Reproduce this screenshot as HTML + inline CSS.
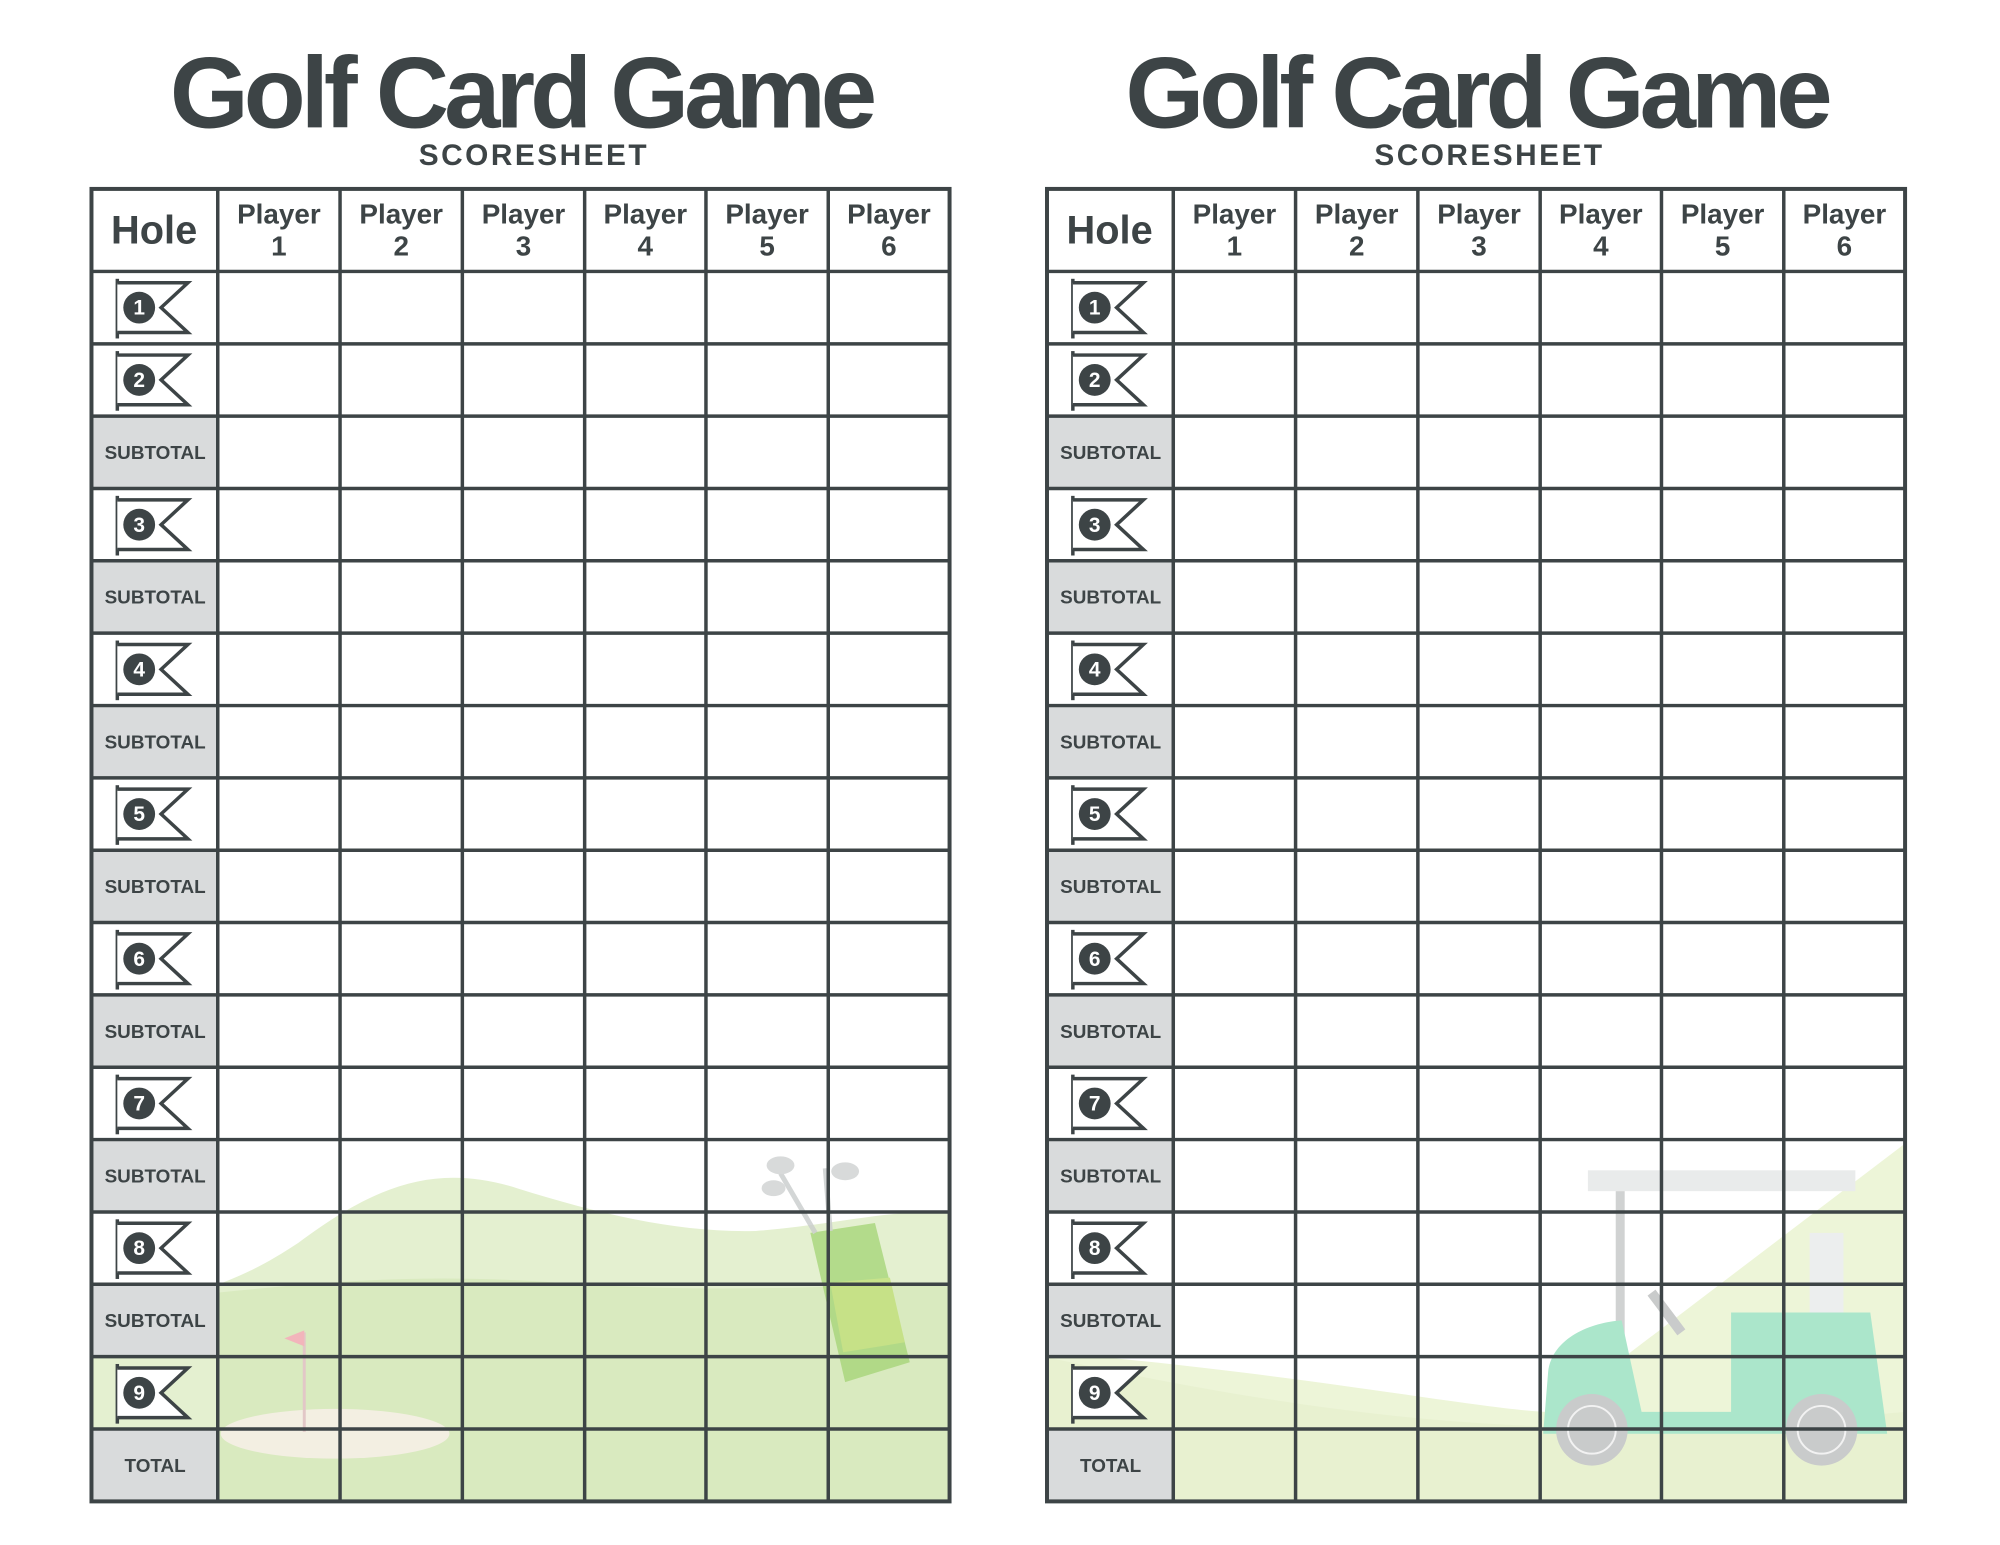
<!DOCTYPE html>
<html><head><meta charset="utf-8"><style>
html,body{margin:0;padding:0;background:#fff}
svg{display:block}
text{font-family:"Liberation Sans",sans-serif;font-weight:bold;fill:#3d4446}
</style></head><body>
<svg width="2000" height="1545" viewBox="0 0 2000 1545" xmlns="http://www.w3.org/2000/svg">
<defs>
<g id="flag">
<line x1="-22" y1="-29" x2="-22" y2="31" stroke="#3d4446" stroke-width="3.5"/>
<path d="M-22,-25 H49 L22,0 L49,25 H-22" fill="#fff" stroke="#3d4446" stroke-width="3.5" stroke-linejoin="miter"/>
<circle cx="0" cy="0" r="16" fill="#3d4446"/>
</g>
<g id="card">
<text x="524" y="128" font-size="102" text-anchor="middle" letter-spacing="-5">Golf Card Game</text>
<text x="537" y="166" font-size="30" text-anchor="middle" letter-spacing="2.5">SCORESHEET</text>
<g fill="#d9dbdc">
<rect x="92" y="418.5" width="127" height="72.8"/>
<rect x="92" y="564" width="127" height="72.8"/>
<rect x="92" y="709.6" width="127" height="72.8"/>
<rect x="92" y="855.1" width="127" height="72.8"/>
<rect x="92" y="1000.6" width="127" height="72.8"/>
<rect x="92" y="1146.1" width="127" height="72.8"/>
<rect x="92" y="1291.6" width="127" height="72.8"/>
<rect x="92" y="1437.2" width="127" height="72.8"/>
</g>
<text x="155" y="245" font-size="40" text-anchor="middle">Hole</text>
<g font-size="28" text-anchor="middle">
<text x="280.5" y="225">Player</text><text x="280.5" y="257">1</text>
<text x="403.5" y="225">Player</text><text x="403.5" y="257">2</text>
<text x="526.5" y="225">Player</text><text x="526.5" y="257">3</text>
<text x="649" y="225">Player</text><text x="649" y="257">4</text>
<text x="771.5" y="225">Player</text><text x="771.5" y="257">5</text>
<text x="894" y="225">Player</text><text x="894" y="257">6</text>
</g>
<use href="#flag" x="140" y="309.4"/>
<use href="#flag" x="140" y="382.1"/>
<use href="#flag" x="140" y="527.7"/>
<use href="#flag" x="140" y="673.2"/>
<use href="#flag" x="140" y="818.7"/>
<use href="#flag" x="140" y="964.2"/>
<use href="#flag" x="140" y="1109.8"/>
<use href="#flag" x="140" y="1255.3"/>
<use href="#flag" x="140" y="1400.8"/>
<g font-size="21" text-anchor="middle">
<text x="140" y="316.5" style="fill:#fff">1</text>
<text x="140" y="389.2" style="fill:#fff">2</text>
<text x="140" y="534.8" style="fill:#fff">3</text>
<text x="140" y="680.3" style="fill:#fff">4</text>
<text x="140" y="825.8" style="fill:#fff">5</text>
<text x="140" y="971.3" style="fill:#fff">6</text>
<text x="140" y="1116.9" style="fill:#fff">7</text>
<text x="140" y="1262.4" style="fill:#fff">8</text>
<text x="140" y="1407.9" style="fill:#fff">9</text>
</g>
<g font-size="19" text-anchor="middle">
<text x="156" y="461.7">SUBTOTAL</text>
<text x="156" y="607.2">SUBTOTAL</text>
<text x="156" y="752.7">SUBTOTAL</text>
<text x="156" y="898.2">SUBTOTAL</text>
<text x="156" y="1043.7">SUBTOTAL</text>
<text x="156" y="1189.2">SUBTOTAL</text>
<text x="156" y="1334.7">SUBTOTAL</text>
<text x="156" y="1480.3">TOTAL</text>
</g>
<g stroke="#3d4446" stroke-width="3.5">
<line x1="92" y1="273" x2="955" y2="273"/>
<line x1="92" y1="345.8" x2="955" y2="345.8"/>
<line x1="92" y1="418.5" x2="955" y2="418.5"/>
<line x1="92" y1="491.3" x2="955" y2="491.3"/>
<line x1="92" y1="564" x2="955" y2="564"/>
<line x1="92" y1="636.8" x2="955" y2="636.8"/>
<line x1="92" y1="709.6" x2="955" y2="709.6"/>
<line x1="92" y1="782.3" x2="955" y2="782.3"/>
<line x1="92" y1="855.1" x2="955" y2="855.1"/>
<line x1="92" y1="927.8" x2="955" y2="927.8"/>
<line x1="92" y1="1000.6" x2="955" y2="1000.6"/>
<line x1="92" y1="1073.4" x2="955" y2="1073.4"/>
<line x1="92" y1="1146.1" x2="955" y2="1146.1"/>
<line x1="92" y1="1218.9" x2="955" y2="1218.9"/>
<line x1="92" y1="1291.6" x2="955" y2="1291.6"/>
<line x1="92" y1="1364.4" x2="955" y2="1364.4"/>
<line x1="92" y1="1437.2" x2="955" y2="1437.2"/>
<line x1="219" y1="190" x2="219" y2="1510"/>
<line x1="342" y1="190" x2="342" y2="1510"/>
<line x1="465" y1="190" x2="465" y2="1510"/>
<line x1="588" y1="190" x2="588" y2="1510"/>
<line x1="710" y1="190" x2="710" y2="1510"/>
<line x1="833" y1="190" x2="833" y2="1510"/>
</g>
<rect x="92" y="190" width="863" height="1320" fill="none" stroke="#3d4446" stroke-width="4"/>
</g>
</defs>

<g transform="scale(0.9943)">
<!-- left background illustration -->
<path d="M92,1364 L92,1330 C200,1300 240,1290 300,1250 C380,1190 440,1170 520,1195 C600,1220 680,1240 760,1238 C840,1232 900,1215 955,1220 L955,1510 L92,1510 Z" fill="#e4f0d0"/>
<path d="M219,1300 C320,1290 420,1280 560,1290 C700,1300 820,1295 955,1290 L955,1510 L219,1510 Z" fill="#d9eabf"/>
<ellipse cx="337" cy="1442" rx="115" ry="25" fill="#f3efe2"/>
<line x1="306" y1="1340" x2="306" y2="1440" stroke="#e2c7c7" stroke-width="3"/>
<path d="M306,1338 L286,1346 L306,1354 Z" fill="#f2b5bb"/>
<g opacity="0.8">
<path d="M815,1240 L880,1230 L915,1370 L850,1390 Z" fill="#a8d67a"/>
<path d="M835,1290 L895,1285 L910,1350 L848,1360 Z" fill="#c2e07a"/>
<line x1="820" y1="1240" x2="785" y2="1180" stroke="#c9cccc" stroke-width="5"/>
<line x1="835" y1="1238" x2="830" y2="1175" stroke="#c9cccc" stroke-width="5"/>
<ellipse cx="785" cy="1172" rx="14" ry="9" fill="#cfd2d2"/>
<ellipse cx="850" cy="1178" rx="14" ry="9" fill="#cfd2d2"/>
<ellipse cx="778" cy="1195" rx="12" ry="8" fill="#cfd2d2"/>
</g>

<!-- right background illustration -->
<g transform="translate(1,0)">
<path d="M1915,1150 L1915,1510 L1052,1510 L1052,1360 C1300,1380 1500,1420 1560,1420 Z" fill="#edf5d8"/>
<path d="M1052,1365 L1052,1510 L1915,1510 L1915,1420 C1600,1450 1400,1440 1052,1365 Z" fill="#e6f0cd" opacity="0.7"/>
<rect x="1596" y="1177" width="269" height="21" fill="#e9ebeb"/>
<rect x="1624" y="1198" width="9" height="145" fill="#d0d2d2"/>
<rect x="1819" y="1240" width="34" height="80" fill="#eceeee"/>
<path d="M1551,1442 L1556,1380 C1560,1345 1600,1330 1630,1328 L1650,1420 L1740,1420 L1740,1320 L1880,1320 L1897,1442 Z" fill="#abe6cb"/>
<circle cx="1600" cy="1438" r="36" fill="#c9cbcb"/>
<circle cx="1600" cy="1438" r="24" fill="none" stroke="#f2f2f2" stroke-width="2"/>
<circle cx="1831" cy="1438" r="36" fill="#c9cbcb"/>
<circle cx="1831" cy="1438" r="24" fill="none" stroke="#f2f2f2" stroke-width="2"/>
<line x1="1660" y1="1300" x2="1690" y2="1340" stroke="#c9cbcb" stroke-width="10"/>
</g>

<use href="#card"/>
<use href="#card" x="961"/>
</g>
</svg>
</body></html>
